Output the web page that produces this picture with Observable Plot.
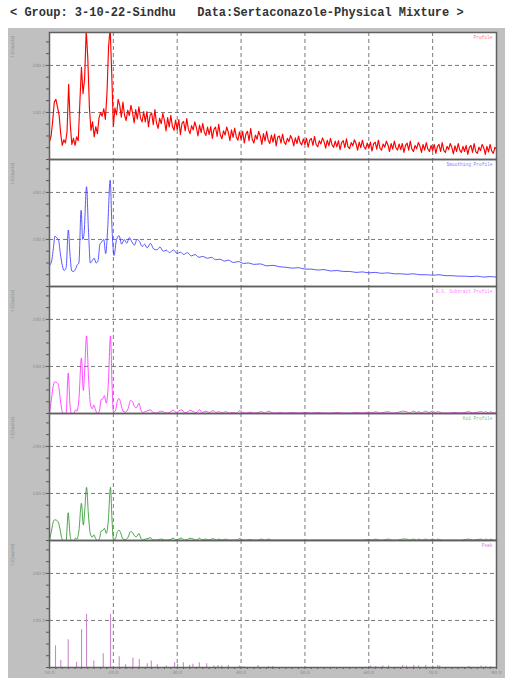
<!DOCTYPE html>
<html><head><meta charset="utf-8">
<script src="https://cdn.jsdelivr.net/npm/d3@7"></script>
<script src="https://cdn.jsdelivr.net/npm/@observablehq/plot@0.6"></script>
<style>
body{margin:0;background:#fff;width:505px;height:678px;overflow:hidden}
#title{height:28px;font:bold 12px "Liberation Mono",monospace;color:#333;white-space:pre;padding-left:10px;line-height:26px}
#chart{margin-left:8px;width:497px;height:650px;background:#c0c0c0}
#chart svg{display:block}
</style></head><body>
<div id="title">&lt; Group: 3-10-22-Sindhu   Data:Sertaconazole-Physical Mixture &gt;</div>
<div id="chart"></div>
<script>
const panels = ["Profile", "Smoothing Profile", "B.G. Subtract Profile", "Kα1 Profile", "Peak"];
const labelColors = ["#ff7f7f", "#7f7fff", "#ff7fff", "#7fbf7f", "#cc88cc"];
const xLabelTicks = [10, 20, 30, 40, 50, 60, 70, 80];
const xGrid = [20, 30, 40, 50, 60, 70];
const yGrid = [100, 200];
const yLabelTicks = [100, 200];

// Raw profile, sampled every 0.25 deg from 10 deg
const rawStart = 10, rawStep = 0.25;
const rawCounts = [
 38,50,82,122, 128,112,95,55, 30,42,35,60, 160,75,32,45, 30,48,40,120,
 196,140,172,275, 215,110,62,80, 48,70,55,88, 100,92,108,85, 140,240,280,180,
 70,110,95,128, 115,90,122,94, 83,105,93,115, 100,78,106,86, 112,88,80,102,
 80,102,70,94, 99,74,106,78, 66,88,76,98, 83,61,89,69, 94,70,62,84,
 63,85,53,77, 81,61,87,64, 55,72,63,80, 68,50,73,57, 77,58,51,69,
 53,70,45,64, 69,49,75,52, 44,61,52,69, 58,40,63,47, 67,48,41,59,
 43,60,35,54, 60,40,66,43, 35,52,43,60, 50,32,55,39, 60,41,34,52,
 37,54,29,48, 50,35,54,37, 32,45,38,51, 43,29,46,34, 50,36,31,44,
 32,45,26,41, 45,30,49,32, 27,40,33,46, 38,24,41,29, 45,31,26,39,
 27,40,21,36, 40,25,44,27, 23,36,29,42, 34,20,37,25, 41,27,22,35,
 24,37,18,33, 37,22,41,24, 20,33,26,39, 31,17,34,22, 39,25,20,33,
 21,34,15,30, 35,20,39,22, 17,30,23,36, 29,15,32,20, 36,22,17,30,
 19,32,13,28, 32,17,36,19, 15,28,21,34, 26,12,29,17, 34,20,15,28,
 17,30,11,26, 30,15,34,17, 13,26,19,32, 25,11,28,16, 32,18,13,26,
 22
];

const smoothTheta = [10.0,10.3,10.6,10.85,11.1,11.4,11.7,12.0,12.3,12.6,12.95,13.2,13.5,13.8,14.1,14.3,14.6,14.95,15.2,15.4,15.8,16.1,16.4,16.7,17.0,17.3,17.6,17.9,18.2,18.5,18.8,19.1,19.5,19.8,20.1,20.5,20.9,21.3,21.7,22.1,22.5,22.9,23.3,23.7,24.1,24.5,24.9,25.3,25.8,26.3,26.8,27.3,27.8,28.3,28.8,29.4,30.0,30.5,31.0,31.6,32.2,32.8,33.4,34.0,34.7,35.4,36.0,36.7,37.4,38.0,38.8,39.6,40.4,41.2,42,43,44,45,46,47,48,49,50,51,52,53,54,55,56,57,58,59,60,61,62,63,64,65,66,67,68,69,70,71,72,73,74,75,76,77,78,79,80];
const smoothCounts = [45,52,80,107,104,100,70,45,34,40,120,70,33,32,38,45,50,162,100,110,212,120,50,55,60,50,55,90,95,100,70,120,226,120,66,100,108,90,100,92,104,95,88,100,96,85,90,82,92,80,78,84,75,77,72,78,70,73,68,72,65,68,62,64,60,62,57,58,54,56,51,53,49,50,47,48,44,45,42,41,39,40,37,37,35,36,33,34,32,32,30,31,29,30,28,29,27,27,26,27,25,25,24,25,23,23,22,22,21,22,20,21,20];

const bgTheta = [10.0,10.3,10.6,10.8,11.1,11.4,11.7,11.85,12.05,12.3,12.6,12.93,13.2,13.4,13.8,14.1,14.3,14.6,15.0,15.3,15.5,15.8,16.1,16.4,16.7,16.95,17.2,17.5,17.8,18.1,18.4,18.6,18.9,19.2,19.55,19.8,20.0,20.3,20.6,20.9,21.2,21.5,21.9,22.3,22.7,23.0,23.3,23.6,24.0,24.3,24.6,25.0,25.4,25.8,26.2,26.7,27.1,27.6,28.0,28.5,28.9,29.4,29.8,30.2,30.7,31.1,31.6,32.0,32.5,33.0,33.5,33.9,34.5,35.0,35.6,36.1,36.5,37.0,37.6,38.1,38.6,39.3,39.8,40.3,40.8,41.4,42.0,42.6,43.2,43.7,44.3,44.8,45.4,46,47,48,49,50,51,52,53,54,55,56,57,58,59,60.0,60.5,61.1,61.6,62.2,63.1,63.6,64.5,65.3,65.9,66.4,67.0,67.5,67.8,68.3,68.9,69.4,70.0,70.4,70.8,71.1,71.6,72.5,73.5,74.5,75.7,76.3,77.6,78.0,78.3,78.7,79.1,79.5,80.0];
const bgCounts = [0,30,60,67,66,60,30,14,2,0,0,86,20,0,0,8,5,30,118,49,90,165,80,21,10,18,8,0,5,30,32,38,22,60,165,60,4,5,25,32,20,5,3,10,28,25,15,12,22,8,2,4,6,8,2,1,3,5,2,1,3,7,2,5,8,2,3,7,4,2,8,2,5,2,6,2,4,1,4,1,2,1,6,2,1,3,1,2,4,1,5,2,1,2,1,2,1,2,1,2,1,1,2,1,1,2,1,3,1,4,1,2,4,1,2,5,4,1,5,2,4,1,5,2,5,2,4,3,1,1,2,1,4,1,4,2,4,1,4,1,2];
const ka1Counts = [0,20,40,44,43,38,20,9,1,0,0,59,14,0,0,5,3,20,79,33,60,113,54,14,7,12,5,0,3,20,22,26,15,41,113,41,3,3,17,22,14,3,2,7,19,17,10,8,15,5,1,3,4,6,1,1,2,3,1,1,2,5,1,3,5,1,2,5,3,1,5,1,3,1,4,1,3,1,3,1,1,1,4,1,1,2,1,1,3,1,3,1,1,1,1,1,1,1,1,1,1,1,1,1,1,1,1,2,1,3,1,1,3,1,1,3,3,1,3,1,3,1,3,1,3,1,3,2,1,1,1,1,3,1,3,1,3,1,3,1,1];

const peakTheta = [10.94,11.77,12.93,14.23,15.02,15.80,16.94,18.42,19.56,20.92,21.91,23.06,24.06,25.31,25.94,26.88,28.29,29.59,30.06,30.96,31.94,32.46,33.46,34.61,35.75,36.38,36.96,38.01,39.73,40.45,42.65,44.3,44.95,60.3,61.1,62.2,63.1,65.3,65.9,67.05,67.8,68.9,70.0,70.8,71.1,75.7,77.6,78.3,79.1];
const peakCounts = [46,15,59,11,80,113,14,29,113,23,6,20,17,8,14,6,3,10,7,10,4,7,10,8,3,4,3,4,3,2,4,2,2,3,2,3,3,4,3,4,3,4,3,4,3,2,3,2,2];

const rawRows = rawCounts.map((c, i) => ({panel: panels[0], theta: rawStart + i * rawStep, counts: c}));
const smoothRows = smoothTheta.map((t, i) => ({panel: panels[1], theta: t, counts: smoothCounts[i]}));
const bgRows = bgTheta.map((t, i) => ({panel: panels[2], theta: t, counts: bgCounts[i]}));
const ka1Rows = bgTheta.map((t, i) => ({panel: panels[3], theta: t, counts: ka1Counts[i]}));
const peakRows = peakTheta.map((t, i) => ({panel: panels[4], theta: t, counts: peakCounts[i]}));

const yMinor = d3.range(0, 275, 25);
const xMinor = d3.range(10, 81, 1);

const chart = Plot.plot({
  width: 497, height: 650,
  marginLeft: 41, marginRight: 9, marginTop: 2, marginBottom: 10,
  x: {domain: [10, 80]},
  y: {domain: [0, 270]},
  fy: {domain: panels, padding: 0, axis: null},
  color: {type: "identity"},
  style: {background: "#c0c0c0", fontFamily: "DejaVu Sans", overflow: "visible"},
  marks: [
    Plot.frame({fill: "white"}),
    Plot.ruleX(xGrid, {stroke: "#7a7a7a", strokeDasharray: "4,3", strokeWidth: 1}),
    Plot.ruleY(yGrid, {stroke: "#7a7a7a", strokeDasharray: "4,3", strokeWidth: 1}),
    Plot.line(rawRows, {x: "theta", y: "counts", fy: "panel", stroke: "#ff0000", strokeWidth: 1.15, clip: true}),
    Plot.line(smoothRows, {x: "theta", y: "counts", fy: "panel", stroke: "#3030ff", strokeWidth: 0.8, curve: "monotone-x", clip: true}),
    Plot.line(bgRows, {x: "theta", y: "counts", fy: "panel", stroke: "#ff22ff", strokeWidth: 0.8, curve: "monotone-x", clip: true}),
    Plot.line(ka1Rows, {x: "theta", y: "counts", fy: "panel", stroke: "#1a8f1a", strokeWidth: 0.8, curve: "monotone-x", clip: true}),
    Plot.ruleX(peakRows, {x: "theta", y1: 0, y2: "counts", fy: "panel", stroke: "#cc88cc", strokeWidth: 1.1}),
    Plot.text(panels, {fy: d => d, text: d => d, fill: (d, i) => labelColors[i], frameAnchor: "top-right", textAnchor: "end", lineAnchor: "top", dx: -4, dy: 3, fontSize: 4.5, fontFamily: "Liberation Mono"}),
    Plot.text(panels, {fy: d => d, text: () => "I (Counts)", frameAnchor: "top-left", rotate: -90, textAnchor: "end", lineAnchor: "middle", dx: -37, dy: 3, fontSize: 4.5, fill: "#8a8a8a"}),
    Plot.axisY({ticks: yMinor, tickSize: 3, tickFormat: () => "", stroke: "#555", label: null}),
    Plot.axisY({ticks: yLabelTicks, tickSize: 0, tickPadding: 4, tickFormat: d => d.toFixed(1), fontSize: 4.5, fill: "#8a8a8a", label: null}),
    Plot.axisX({ticks: xMinor, tickSize: 2, tickFormat: () => "", stroke: "#555", label: null}),
    Plot.axisX({ticks: xLabelTicks, tickSize: 0, tickPadding: 3, tickFormat: d => d.toFixed(1), fontSize: 4.5, fill: "#8a8a8a", label: null}),
    Plot.frame({stroke: "#606060", strokeWidth: 1.5})
  ]
});
document.getElementById("chart").appendChild(chart);
</script>
</body></html>
